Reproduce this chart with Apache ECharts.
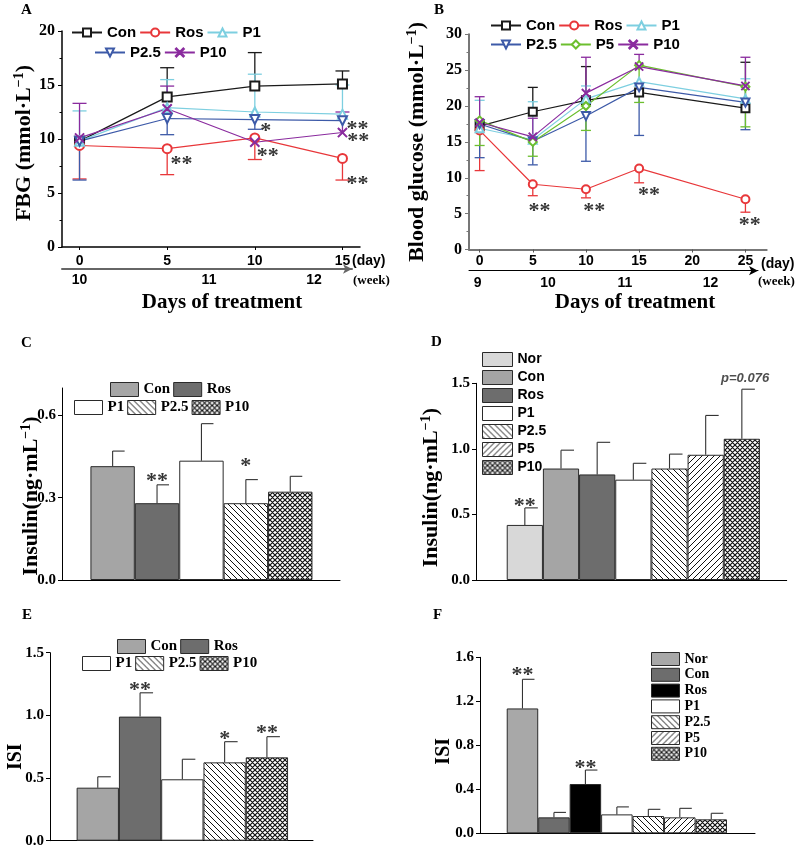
<!DOCTYPE html>
<html><head><meta charset="utf-8">
<script src="https://cdn.jsdelivr.net/npm/echarts@6/dist/echarts.min.js"></script>
<style>html,body{margin:0;padding:0;background:#fff}#c{width:800px;height:850px}</style>
</head><body><div id="c"></div>
<script>
// ---------- Panel A: FBG (mmol/L) vs days of treatment ----------
const daysA = [0, 5, 10, 15];
const fbgCon = [9.8, 13.9, 14.9, 15.1];
const fbgRos = [9.4, 9.1, 10.1, 8.2];
const fbgP1 = [9.8, 12.9, 12.5, 12.3];
const fbgP25 = [9.8, 11.9, 11.8, 11.7];
const fbgP10 = [10.1, 12.8, 9.7, 10.6];
// error-bar ends (null = not visible)
const fbgConErr = [null, 16.6, 18.0, 16.3];
const fbgRosErr = [6.3, 6.7, 8.1, 6.2];
const fbgP1Err = [12.6, 15.5, 16.0, 15.0];
const fbgP25Err = [6.2, 10.4, 10.9, null];
const fbgP10Err = [13.3, 14.9, null, 12.5];
const yTicksA = [0, 5, 10, 15, 20];
const xTicksA = [0, 5, 10, 15];
const weeksA = ['10', '11', '12'];
const weeksAatDay = [0, 7.4, 13.4];
const annA = [[5.82, 8.1, '**'], [10.63, 11.2, '*'], [10.74, 8.9, '**'], [15.86, 11.4, '**'], [15.9, 10.25, '**'], [15.86, 6.23, '**']];

// ---------- Panel B: Blood glucose vs days ----------
const daysB = [0, 5, 10, 15, 25];
const bgCon = [17.2, 19.2, 20.8, 21.9, 19.7];
const bgRos = [16.6, 9.1, 8.4, 11.3, 7.0];
const bgP1 = [16.9, 15.3, 21.0, 23.4, 21.0];
const bgP25 = [17.5, 15.1, 18.6, 22.6, 20.5];
const bgP5 = [18.0, 15.0, 20.0, 25.7, 22.7];
const bgP10 = [17.7, 15.7, 21.8, 25.5, 22.8];
const bgConErr = [null, 22.6, 25.5, null, 26.1];
const bgRosErr = [11.0, 7.5, 7.2, 9.3, 5.2];
const bgP1Err = [20.8, 20.6, 22.8, null, 23.8];
const bgP25Err = [12.8, 11.8, 12.3, 15.9, 16.7];
const bgP5Err = [14.5, 13.0, 16.6, 20.5, 17.1];
const bgP10Err = [21.3, 18.3, 26.8, 27.2, 26.8];
const yTicksB = [0, 5, 10, 15, 20, 25, 30];
const xTicksB = [0, 5, 10, 15, 20, 25];
const weeksB = ['9', '10', '11', '12'];
const weeksBatDay = [-0.2, 6.4, 13.6, 21.6];
const annB = [[5.62, 5.96, '**'], [10.78, 6.06, '**'], [15.93, 8.2, '**'], [25.4, 4.0, '**']];

// ---------- Panel C: Insulin ----------
const groupsC = ['Con', 'Ros', 'P1', 'P2.5', 'P10'];
const insC = [0.415, 0.28, 0.435, 0.28, 0.322];
const insCErr = [0.47, 0.347, 0.57, 0.366, 0.378];
const yTicksC = [0, 0.3, 0.6];
const annC = [[1, 0.377, '**'], [3, 0.433, '*']];

// ---------- Panel D: Insulin ----------
const groupsD = ['Nor', 'Con', 'Ros', 'P1', 'P2.5', 'P5', 'P10'];
const insD = [0.42, 0.85, 0.805, 0.765, 0.85, 0.955, 1.077];
const insDErr = [0.55, 0.99, 1.05, 0.89, 0.96, 1.255, 1.455];
const yTicksD = [0, 0.5, 1.0, 1.5];
const annD = [[0, 0.597, '**']];
const pNoteD = [[6.09, 1.54, 'p=0.076']];

// ---------- Panel E: ISI ----------
const groupsE = ['Con', 'Ros', 'P1', 'P2.5', 'P10'];
const isiE = [0.423, 0.99, 0.49, 0.625, 0.665];
const isiEErr = [0.51, 1.18, 0.65, 0.79, 0.83];
const yTicksE = [0, 0.5, 1.0, 1.5];
const annE = [[1, 1.242, '**'], [3, 0.851, '*'], [4, 0.899, '**']];

// ---------- Panel F: ISI ----------
const groupsF = ['Nor', 'Con', 'Ros', 'P1', 'P2.5', 'P5', 'P10'];
const isiF = [1.135, 0.145, 0.448, 0.172, 0.157, 0.145, 0.127];
const isiFErr = [1.40, 0.19, 0.575, 0.24, 0.218, 0.227, 0.182];
const yTicksF = [0, 0.4, 0.8, 1.2, 1.6];
const annF = [[0, 1.478, '**'], [2, 0.639, '**']];

// ---------- styles ----------
const SERIF = 'Liberation Serif';
const SANS = 'Liberation Sans';
const lineColors = { Con: '#1a1a1a', Ros: '#e8373a', P1: '#7dcfe0', 'P2.5': '#3d5aa8', P5: '#6cbf2e', P10: '#8a2b9e' };
const crossPath = 'path://M0,0.7L0.7,0L5,4.3L9.3,0L10,0.7L5.7,5L10,9.3L9.3,10L5,5.7L0.7,10L0,9.3L4.3,5Z';
const lineSymbols = { Con: ['emptyRect', 0], Ros: ['emptyCircle', 0], P1: ['emptyTriangle', 0], 'P2.5': ['emptyTriangle', 180], P5: ['emptyDiamond', 0], P10: [crossPath, 0] };

function hatch(dir, s, lw) {
  const c = document.createElement('canvas'); c.width = s; c.height = s;
  const g = c.getContext('2d');
  g.fillStyle = '#fff'; g.fillRect(0, 0, s, s);
  g.strokeStyle = '#111'; g.lineWidth = lw; g.beginPath();
  if (dir === 'back' || dir === 'cross') {
    g.moveTo(-1, -1); g.lineTo(s + 1, s + 1);
    g.moveTo(-1, s - 1); g.lineTo(1, s + 1);
    g.moveTo(s - 1, -1); g.lineTo(s + 1, 1);
  }
  if (dir === 'fwd' || dir === 'cross') {
    g.moveTo(-1, s + 1); g.lineTo(s + 1, -1);
    g.moveTo(-1, 1); g.lineTo(1, -1);
    g.moveTo(s - 1, s + 1); g.lineTo(s + 1, s - 1);
  }
  g.stroke();
  return { image: c, repeat: 'repeat' };
}
const patBack = hatch('back', 6, 1), patFwd = hatch('fwd', 6, 1), patCross = hatch('cross', 5, 1.2);
const fillsD = { Nor: '#d8d8d8', Con: '#a5a5a5', Ros: '#6d6d6d', P1: '#fff', 'P2.5': patBack, P5: patFwd, P10: patCross };
const fillsC = { Con: '#a5a5a5', Ros: '#6d6d6d', P1: '#fff', 'P2.5': patBack, P10: patCross };
const fillsF = { Nor: '#a8a8a8', Con: '#6d6d6d', Ros: '#000', P1: '#fff', 'P2.5': patBack, P5: patFwd, P10: patCross };

const series = [];
function errRender(cap, rightOnly, col, lw) {
  return function (params, api) {
    const x = api.value(0), v = api.value(1), t = api.value(2);
    const p0 = api.coord([x, v]), p1 = api.coord([x, t]);
    const st = { stroke: col, lineWidth: lw };
    return {
      type: 'group', children: [
        { type: 'line', shape: { x1: p0[0], y1: p0[1], x2: p1[0], y2: p1[1] }, style: st },
        { type: 'line', shape: { x1: rightOnly ? p1[0] : p1[0] - cap, y1: p1[1], x2: p1[0] + cap, y2: p1[1] }, style: st }
      ]
    };
  };
}
function addLine(panel, name, days, vals, errs, xi) {
  const col = lineColors[name];
  const sym = lineSymbols[name];
  series.push({
    type: 'line', name: panel + ':' + name, xAxisIndex: xi, yAxisIndex: xi,
    data: days.map((d, i) => [d, vals[i]]),
    symbol: sym[0], symbolRotate: sym[1], symbolSize: panel === 'A' ? 9 : 8, showSymbol: true,
    lineStyle: { color: col, width: 1.2 },
    itemStyle: { color: col, borderColor: col, borderWidth: 1.1 }, z: 3
  });
  const ed = [];
  days.forEach((d, i) => { if (errs[i] != null) ed.push([d, vals[i], errs[i]]); });
  series.push({
    type: 'custom', name: panel + ':' + name + '-err', xAxisIndex: xi, yAxisIndex: xi,
    data: ed, z: 2, itemStyle: { color: col },
    renderItem: errRender(panel === 'A' ? 7 : 5, false, col, 1.3)
  });
}
function addBars(panel, groups, vals, errs, fillMap, xi, w, cap) {
  groups.forEach((g, i) => {
    series.push({
      type: 'bar', name: panel + ':' + g, xAxisIndex: xi, yAxisIndex: xi,
      data: [[i, vals[i]]], barWidth: w, barGap: '-100%',
      itemStyle: { color: fillMap[g], borderColor: '#2a2a2a', borderWidth: 1 }, z: 2
    });
  });
  series.push({
    type: 'custom', name: panel + ':err', xAxisIndex: xi, yAxisIndex: xi, z: 1,
    data: groups.map((g, i) => [i, vals[i], errs[i]]),
    renderItem: errRender(cap, true, '#333', 1.1)
  });
}
function addAnn(panel, list, xi, extra) {
  series.push({
    type: 'scatter', name: panel + ':ann', xAxisIndex: xi, yAxisIndex: xi, clip: false, silent: true,
    symbolSize: 0, z: 5,
    data: list.map(a => ({ value: [a[0], a[1]], label: { formatter: a[2] } })),
    label: Object.assign({ show: true, position: 'inside', fontFamily: SERIF, fontWeight: 'bold', fontSize: 22, color: '#000', offset: [0, 5] }, extra || {})
  });
}

addLine('A', 'Con', daysA, fbgCon, fbgConErr, 0);
addLine('A', 'Ros', daysA, fbgRos, fbgRosErr, 0);
addLine('A', 'P1', daysA, fbgP1, fbgP1Err, 0);
addLine('A', 'P2.5', daysA, fbgP25, fbgP25Err, 0);
addLine('A', 'P10', daysA, fbgP10, fbgP10Err, 0);
addAnn('A', annA, 0);

addLine('B', 'Con', daysB, bgCon, bgConErr, 1);
addLine('B', 'Ros', daysB, bgRos, bgRosErr, 1);
addLine('B', 'P1', daysB, bgP1, bgP1Err, 1);
addLine('B', 'P2.5', daysB, bgP25, bgP25Err, 1);
addLine('B', 'P5', daysB, bgP5, bgP5Err, 1);
addLine('B', 'P10', daysB, bgP10, bgP10Err, 1);
addAnn('B', annB, 1);

addBars('C', groupsC, insC, insCErr, fillsC, 2, 44.4, 12);
addAnn('C', annC, 2);
addBars('D', groupsD, insD, insDErr, fillsD, 3, 36.2, 13);
addAnn('D', annD, 3);
addAnn('Dp', pNoteD, 3, { fontFamily: SANS, fontStyle: 'italic', fontSize: 13, color: '#222', offset: [0, 0] });
addBars('E', groupsE, isiE, isiEErr, fillsC, 4, 42.3, 13);
addAnn('E', annE, 4);
addBars('F', groupsF, isiF, isiFErr, fillsF, 5, 31.5, 12);
addAnn('F', annF, 5);

// ---------- axes ----------
const grids = [
  { left: 62, top: 31, width: 298, height: 216 },     // A
  { left: 469, top: 34.3, width: 297.7, height: 215.2 }, // B
  { left: 62, top: 388, width: 278, height: 192 },     // C
  { left: 476, top: 383.3, width: 310.7, height: 196.7 }, // D
  { left: 50, top: 652.7, width: 263, height: 188 },   // E
  { left: 480, top: 657.3, width: 275, height: 176 },  // F
  { left: 62, top: 268, width: 290, height: 1 },       // A week axis
  { left: 469, top: 269.7, width: 289, height: 1 }     // B week axis
];
const tickLblSerif = { fontFamily: SERIF, fontWeight: 'bold', fontSize: 16, color: '#000' };
const tickLblSans = { fontFamily: SANS, fontWeight: 'bold', fontSize: 14, color: '#000' };
const supRich = { sup: { fontFamily: SERIF, fontWeight: 'bold', fontSize: 14, padding: [0, 0, 10, 0] } };
function yName(text, size, gap, pad) {
  return {
    name: text, nameLocation: 'middle', nameRotate: 90, nameGap: gap, nameMoveOverlap: false,
    nameTextStyle: { fontFamily: SERIF, fontWeight: 'bold', fontSize: size, color: '#000', rich: supRich, padding: pad || 0 }
  };
}
const fmt1 = v => v.toFixed(1);
function yLine(col, w) { return { show: true, onZero: false, lineStyle: { color: col, width: w } }; }
const yAxis = [
  Object.assign({ gridIndex: 0, type: 'value', min: 0, max: 20, interval: 5,
    axisLine: yLine('#000', 1.5),
    axisTick: { show: true, length: 4, lineStyle: { color: '#000' } },
    minorTick: { show: true, splitNumber: 2, length: 2.5, lineStyle: { color: '#000' } },
    axisLabel: Object.assign({ margin: 7 }, tickLblSerif), splitLine: { show: false } },
    yName('FBG (mmol·L{sup|−1})', 22, 26, [0, 8, 0, 0])),
  Object.assign({ gridIndex: 1, type: 'value', min: 0, max: 30, interval: 5,
    axisLine: yLine('#777', 2),
    axisTick: { show: true, length: 4, lineStyle: { color: '#777' } },
    minorTick: { show: true, splitNumber: 2, length: 2.5, lineStyle: { color: '#777' } },
    axisLabel: Object.assign({ margin: 7 }, tickLblSerif), splitLine: { show: false } },
    yName('Blood glucose (mmol·L{sup|−1})', 22, 40)),
  Object.assign({ gridIndex: 2, type: 'value', min: 0, max: 0.7,
    axisLine: yLine('#000', 1),
    axisTick: { show: true, length: 4, customValues: yTicksC, lineStyle: { color: '#000' } },
    axisLabel: Object.assign({ margin: 6, customValues: yTicksC, formatter: fmt1 }, tickLblSerif, { fontSize: 15 }), splitLine: { show: false } },
    yName('Insulin(ng·mL{sup|−1})', 22, 19, [0, 24, 0, 0])),
  Object.assign({ gridIndex: 3, type: 'value', min: 0, max: 1.5,
    axisLine: yLine('#000', 1),
    axisTick: { show: true, length: 4, customValues: yTicksD, lineStyle: { color: '#000' } },
    axisLabel: Object.assign({ margin: 6, customValues: yTicksD, formatter: fmt1 }, tickLblSerif, { fontSize: 15 }), splitLine: { show: false } },
    yName('Insulin(ng·mL{sup|−1})', 22, 33, [0, 12, 0, 0])),
  Object.assign({ gridIndex: 4, type: 'value', min: 0, max: 1.5,
    axisLine: yLine('#000', 1),
    axisTick: { show: true, length: 4, customValues: yTicksE, lineStyle: { color: '#000' } },
    axisLabel: Object.assign({ margin: 6, customValues: yTicksE, formatter: fmt1 }, tickLblSerif, { fontSize: 15 }), splitLine: { show: false } },
    yName('ISI', 20, 24, [0, 20, 0, 0])),
  Object.assign({ gridIndex: 5, type: 'value', min: 0, max: 1.6,
    axisLine: yLine('#000', 1),
    axisTick: { show: true, length: 4, customValues: yTicksF, lineStyle: { color: '#000' } },
    axisLabel: Object.assign({ margin: 6, customValues: yTicksF, formatter: fmt1 }, tickLblSerif, { fontSize: 15 }), splitLine: { show: false } },
    yName('ISI', 20, 26, [0, 12, 0, 0])),
  { gridIndex: 6, type: 'value', show: false, min: 0, max: 1 },
  { gridIndex: 7, type: 'value', show: false, min: 0, max: 1 }
];
function barX(gi, min, max) {
  return { gridIndex: gi, type: 'value', min: min, max: max,
    axisLine: { show: true, onZero: false, lineStyle: { color: '#000', width: 1 } },
    axisTick: { show: false }, axisLabel: { show: false }, splitLine: { show: false } };
}
const xAxis = [
  { gridIndex: 0, type: 'value', min: -1, max: 16,
    axisLine: { show: true, onZero: false, lineStyle: { color: '#000', width: 1.5 } },
    axisTick: { show: true, length: 3, customValues: xTicksA, lineStyle: { color: '#000' } },
    axisLabel: Object.assign({ margin: 7, customValues: xTicksA }, tickLblSans), splitLine: { show: false } },
  { gridIndex: 1, type: 'value', min: -1, max: 27,
    axisLine: { show: true, onZero: false, lineStyle: { color: '#777', width: 2 } },
    axisTick: { show: true, length: 3, customValues: xTicksB, lineStyle: { color: '#555' } },
    axisLabel: Object.assign({ margin: 5, customValues: xTicksB }, tickLblSans), splitLine: { show: false } },
  barX(2, -1.14, 5.12),
  barX(3, -1.35, 7.24),
  barX(4, -1.13, 5.09),
  barX(5, -1.35, 7.39),
  { gridIndex: 6, type: 'value', min: -1, max: 15.57,
    axisLine: { show: true, onZero: false, symbol: ['none', 'arrow'], symbolSize: [7, 9], lineStyle: { color: '#666', width: 2 } },
    axisTick: { show: false }, splitLine: { show: false },
    axisLabel: Object.assign({ margin: 4, customValues: weeksAatDay, formatter: v => weeksA[weeksAatDay.indexOf(v)] }, tickLblSans) },
  { gridIndex: 7, type: 'value', min: -1, max: 26.05,
    axisLine: { show: true, onZero: false, symbol: ['none', 'arrow'], symbolSize: [7, 9], lineStyle: { color: '#000', width: 1 } },
    axisTick: { show: false }, splitLine: { show: false },
    axisLabel: Object.assign({ margin: 5, customValues: weeksBatDay, formatter: v => weeksB[weeksBatDay.indexOf(v)] }, tickLblSans) }
];

// ---------- legends ----------
const stripName = n => n.split(':')[1];
const lineLegTxt = { fontFamily: SANS, fontWeight: 'bold', fontSize: 15, color: '#000' };
const barLegSerif = { fontFamily: SERIF, fontWeight: 'bold', fontSize: 15, color: '#000' };
function leg(names, left, top, o) {
  return Object.assign({ data: names, left: left, top: top, padding: 0, selectedMode: false, formatter: stripName }, o);
}
const lineLeg = { itemWidth: 30, itemHeight: 10, itemGap: 3, textStyle: lineLegTxt };
const barLeg = { icon: 'rect', itemWidth: 28, itemHeight: 14, itemGap: 3, textStyle: barLegSerif,
  itemStyle: { borderColor: '#2a2a2a', borderWidth: 1 } };
const legend = [
  leg(['A:Con', 'A:Ros', 'A:P1'], 71, 25, lineLeg),
  leg(['A:P2.5', 'A:P10'], 94, 45, lineLeg),
  leg(['B:Con', 'B:Ros', 'B:P1'], 490, 18, lineLeg),
  leg(['B:P2.5', 'B:P5', 'B:P10'], 490, 37, lineLeg),
  leg(['C:Con', 'C:Ros'], 110, 382, barLeg),
  leg(['C:P1', 'C:P2.5', 'C:P10'], 74, 400, barLeg),
  leg(groupsD.map(g => 'D:' + g), 482, 352, Object.assign({}, barLeg, { orient: 'vertical', itemWidth: 30, itemGap: 3, textStyle: { fontFamily: SANS, fontWeight: 'bold', fontSize: 14, color: '#000' } })),
  leg(['E:Con', 'E:Ros'], 117, 639, barLeg),
  leg(['E:P1', 'E:P2.5', 'E:P10'], 82, 656, barLeg),
  leg(groupsF.map(g => 'F:' + g), 651, 652, Object.assign({}, barLeg, { orient: 'vertical', itemHeight: 13, itemGap: 1.8, textStyle: { fontFamily: SERIF, fontWeight: 'bold', fontSize: 14, color: '#000' } }))
];

// ---------- decorative text ----------
function txt(x, y, s, font, align) {
  return { type: 'text', x: x, y: y, style: { text: s, font: font, fill: '#000', textAlign: align || 'left', textVerticalAlign: 'middle' } };
}
const letterFont = 'bold 15px "Liberation Serif"';
const graphic = [
  txt(21, 10, 'A', letterFont), txt(434, 10, 'B', letterFont),
  txt(21, 343, 'C', letterFont), txt(431, 342, 'D', letterFont),
  txt(22, 615, 'E', letterFont), txt(433, 615, 'F', letterFont),
  txt(222, 303, 'Days of treatment', 'bold 21px "Liberation Serif"', 'center'),
  txt(635, 303, 'Days of treatment', 'bold 21px "Liberation Serif"', 'center'),
  txt(352, 261.5, '(day)', 'bold 14px "Liberation Sans"'),
  txt(353, 281, '(week)', 'bold 13px "Liberation Serif"'),
  txt(761, 264, '(day)', 'bold 14px "Liberation Sans"'),
  txt(758, 282, '(week)', 'bold 13px "Liberation Serif"')
];

const chart = echarts.init(document.getElementById('c'), null, { renderer: 'canvas' });
chart.setOption({
  animation: false,
  backgroundColor: '#fff',
  textStyle: { fontFamily: SANS },
  grid: grids, xAxis: xAxis, yAxis: yAxis, legend: legend, series: series, graphic: graphic
});
</script></body></html>
